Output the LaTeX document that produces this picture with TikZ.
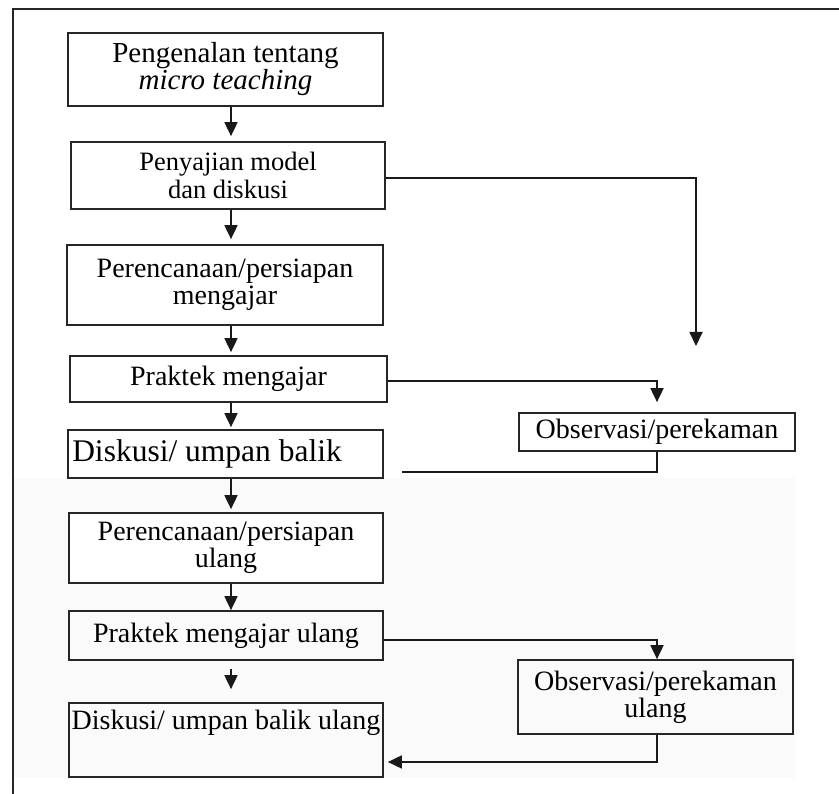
\documentclass[tikz,border=0pt]{standalone}
\usepackage{fontspec}
\setmainfont{Liberation Serif}
\usetikzlibrary{arrows.meta,calc}
\tikzset{
  box/.style={draw=black!85,line width=1.7pt,inner sep=0pt,align=center,text=black,
    font=\fontsize{28}{27}\selectfont},
  arr/.style={draw=black!90,line width=1.8pt,-{Triangle[length=14pt,width=13pt]}},
  ln/.style={draw=black!90,line width=1.8pt},
}
\begin{document}
\begin{tikzpicture}[x=1pt,y=-1pt]
\useasboundingbox (0,0) rectangle (839,794);
\fill[black!2] (14,478) rectangle (795,778);
% outer frame
\draw[line width=1.8pt,black!85] (13,794) -- (13,9) -- (839,9);
% main column
\node[box,minimum width=315pt,minimum height=73pt,font=\fontsize{29}{27}\selectfont] (b1) at (225.5,69.5) {Pengenalan tentang\\\textit{micro teaching}};
\node[box,fill=white,minimum width=314pt,minimum height=67pt,font=\fontsize{26.5}{28}\selectfont] (b2) at (228,175.5) {Penyajian model\\dan diskusi};
\node[box,minimum width=316pt,minimum height=80pt] (b3) at (225,285) {Perencanaan/persiapan\\mengajar};
\node[box,fill=white,minimum width=317pt,minimum height=46pt] (b4) at (228.5,379) {Praktek mengajar};
\node[box,fill=white,minimum width=315pt,minimum height=48pt,font=\fontsize{31.5}{30}\selectfont] (b5) at (225.5,454) {Diskusi/ umpan balik\hspace{37pt}};
\node[box,fill=white,minimum width=314pt,minimum height=70pt] (b6) at (226,548) {Perencanaan/persiapan\\ulang};
\node[box,minimum width=314pt,minimum height=49pt] (b7) at (226,635.5) {Praktek mengajar ulang};
\node[box,minimum width=314pt,minimum height=74pt] (b8) at (226,740) {Diskusi/ umpan balik ulang\\[6pt]\strut};
% right column
\node[box,fill=white,minimum width=276pt,minimum height=38pt] (o1) at (657,432) {Observasi/perekaman};
\node[box,minimum width=275pt,minimum height=74pt] (o2) at (655.5,697) {Observasi/perekaman\\ulang};
% helper coordinates
\coordinate (ax) at (231,0);
\coordinate (rx2) at (657,0);
\coordinate (t1) at (696,346);
\coordinate (e1) at (402,472);
% vertical arrows
\draw[arr,shorten >=5pt] (b1.south -| ax) -- (b2.north -| ax);
\draw[arr,shorten >=5pt] (b2.south -| ax) -- (b3.north -| ax);
\draw[arr,shorten >=3pt] (b3.south -| ax) -- (b4.north -| ax);
\draw[arr,shorten >=2pt] (b4.south -| ax) -- (b5.north -| ax);
\draw[arr,shorten >=3pt] (b5.south -| ax) -- (b6.north -| ax);
\draw[arr] (b6.south -| ax) -- (b7.north -| ax);
\draw[arr,shorten <=8pt,shorten >=13pt] (b7.south -| ax) -- (b8.north -| ax);
% side connectors
\draw[arr] ([yshift=-2.5pt]b2.east) -| (t1);
\draw[arr,shorten >=10pt] ([yshift=-2pt]b4.east) -| (o1.north -| rx2);
\draw[ln] (o1.south -| rx2) |- (e1);
\draw[arr] ([yshift=-4.5pt]b7.east) -| (o2.north -| rx2);
\draw[arr,shorten >=4pt] (o2.south -| rx2) |- ($(b8.east)+(0,22)$);
\end{tikzpicture}
\end{document}
